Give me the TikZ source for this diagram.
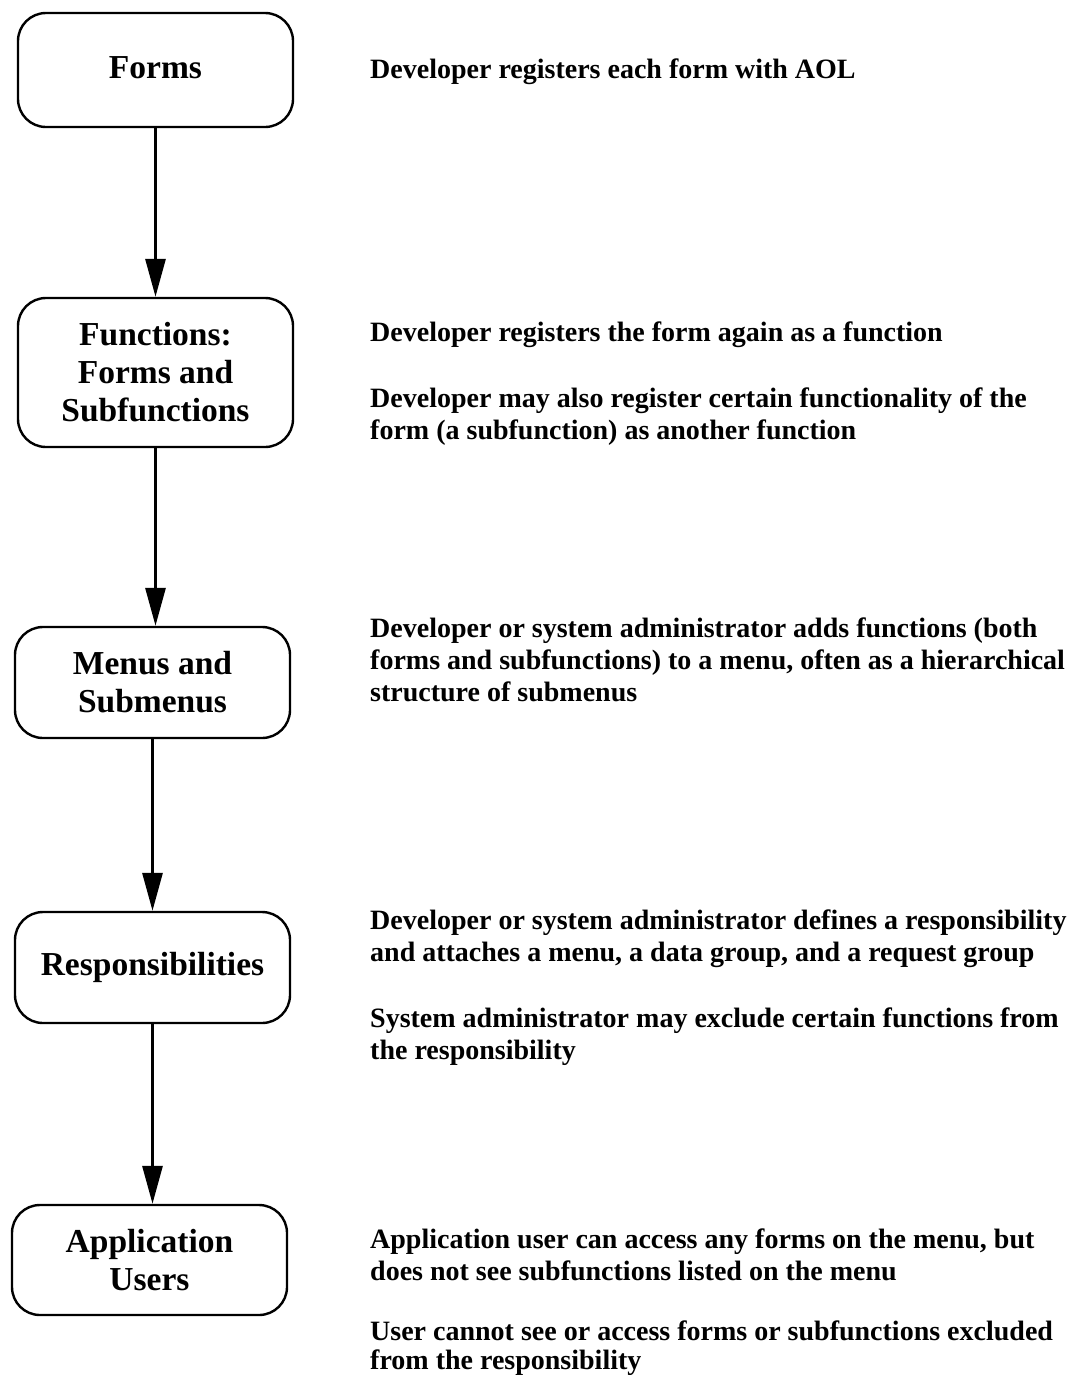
\documentclass[tikz,border=0pt]{standalone}
\usepackage{fontspec}
\setmainfont{Liberation Serif}
\newfontfamily\notefont{Liberation Serif}
\usetikzlibrary{arrows.meta}
\begin{document}
\begin{tikzpicture}[x=1pt,y=-1pt,
  stagebox/.style={draw, line width=2.4pt, rounded corners=28pt, inner sep=0pt,
    minimum width=275pt, align=center,
    font=\fontsize{33.5}{38}\selectfont\bfseries},
  note/.style={anchor=north west, align=left, inner sep=0pt,
    font=\notefont\fontsize{28}{32}\selectfont\bfseries},
  flow/.style={line width=3pt, -{Triangle[width=20pt,length=38pt]}}]
\useasboundingbox (0,0) rectangle (1082,1376);

% stages of the hierarchy
\node[stagebox, minimum height=114pt] (forms) at (155.5,70) {\raisebox{4pt}{Forms}};
\node[stagebox, minimum height=149pt] (func) at (155.5,372.5) {Functions:\\Forms and\\Subfunctions};
\node[stagebox, minimum height=111pt] (menus) at (152.5,682.5) {Menus and\\Submenus};
\node[stagebox, minimum height=111pt] (resp) at (152.5,967.5) {Responsibilities};
\node[stagebox, minimum height=110pt] (users) at (149.5,1260) {Application\\Users};

% flow between stages
\draw[flow] (forms.south) -- (forms.south |- func.north);
\draw[flow] (func.south) -- (func.south |- menus.north);
\draw[flow] (menus.south) -- (menus.south |- resp.north);
\draw[flow] (resp.south) -- (resp.south |- users.north);

% descriptions
\node[note] (n1) at (370,59) {Developer registers each form with AOL};
\node[note] (n2) at (370,322) {Developer registers the form again as a function};
\node[note] (n3) at (370,388) {Developer may also register certain functionality of the\\form (a subfunction) as another function};
\node[note] (n4) at (370,618) {Developer or system administrator adds functions (both\\forms and subfunctions) to a menu, often as a hierarchical\\structure of submenus};
\node[note] (n5) at (370,910) {Developer or system administrator defines a responsibility\\and attaches a menu, a data group, and a request group};
\node[note] (n6) at (370,1008) {System administrator may exclude certain functions from\\the responsibility};
\node[note] (n7) at (370,1229) {Application user can access any forms on the menu, but\\does not see subfunctions listed on the menu};
\node[note, font=\notefont\fontsize{28}{29}\selectfont\bfseries] (n8) at (370,1321) {User cannot see or access forms or subfunctions excluded\\from the responsibility};
\end{tikzpicture}
\end{document}
